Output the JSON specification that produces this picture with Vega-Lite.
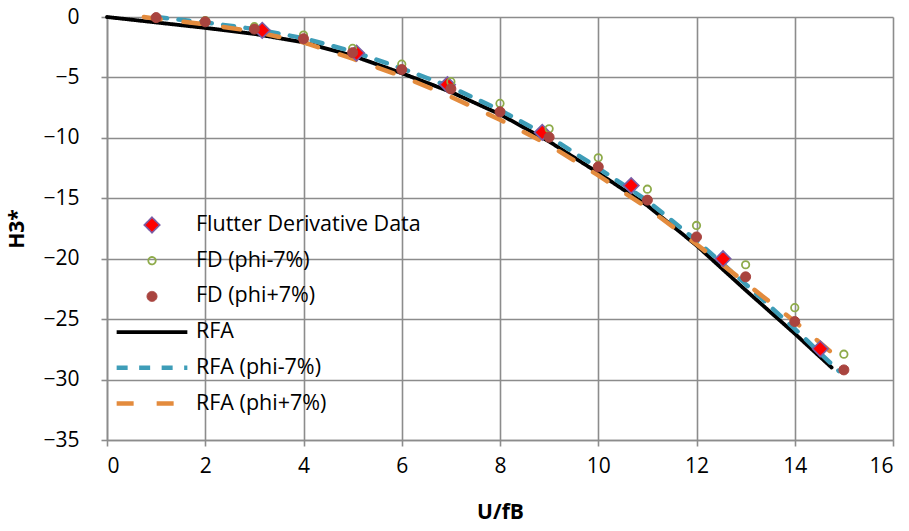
{
  "$schema": "https://vega.github.io/schema/vega-lite/v6.json",
  "width": 786,
  "height": 423,
  "autosize": {"type": "none"},
  "padding": {"left": 107, "top": 17, "right": 16, "bottom": 91},
  "background": "white",
  "config": {
    "view": {"stroke": null},
    "font": "Open Sans",
    "axis": {
      "gridColor": "#8c8c8c",
      "gridWidth": 1.6,
      "domainColor": "#8c8c8c",
      "domainWidth": 1.6,
      "tickColor": "#8c8c8c",
      "tickWidth": 1.6,
      "tickSize": 6,
      "labelFont": "Open Sans",
      "labelFontSize": 21,
      "labelColor": "#000000",
      "titleFont": "Open Sans",
      "titleFontSize": 21,
      "titleFontWeight": "bold",
      "titleColor": "#000000"
    },
    "legend": {
      "orient": "none",
      "legendX": 7,
      "legendY": 198,
      "labelFont": "Open Sans",
      "labelFontSize": 21.5,
      "labelColor": "#000000",
      "labelOffset": 6,
      "labelLimit": 400,
      "clipHeight": 20,
      "rowPadding": 13.7,
      "symbolOpacity": 1
    }
  },
  "data": {
    "values": [
      {"series": "RFA", "u": 0, "h": 0},
      {"series": "RFA", "u": 1, "h": -0.45},
      {"series": "RFA", "u": 2, "h": -0.9},
      {"series": "RFA", "u": 3, "h": -1.4},
      {"series": "RFA", "u": 4, "h": -2.1},
      {"series": "RFA", "u": 5, "h": -3.2},
      {"series": "RFA", "u": 6, "h": -4.65},
      {"series": "RFA", "u": 7, "h": -6.2},
      {"series": "RFA", "u": 8, "h": -8.05},
      {"series": "RFA", "u": 9, "h": -10.3},
      {"series": "RFA", "u": 10, "h": -12.9},
      {"series": "RFA", "u": 11, "h": -15.6},
      {"series": "RFA", "u": 12, "h": -18.9},
      {"series": "RFA", "u": 13, "h": -22.6},
      {"series": "RFA", "u": 14, "h": -26.2},
      {"series": "RFA", "u": 14.75, "h": -29.0},
      {"series": "RFA (phi-7%)", "u": 1, "h": 0},
      {"series": "RFA (phi-7%)", "u": 2, "h": -0.45},
      {"series": "RFA (phi-7%)", "u": 3, "h": -1.0},
      {"series": "RFA (phi-7%)", "u": 4, "h": -1.75},
      {"series": "RFA (phi-7%)", "u": 5, "h": -2.85},
      {"series": "RFA (phi-7%)", "u": 6, "h": -4.25},
      {"series": "RFA (phi-7%)", "u": 7, "h": -5.8},
      {"series": "RFA (phi-7%)", "u": 8, "h": -7.7},
      {"series": "RFA (phi-7%)", "u": 9, "h": -9.9},
      {"series": "RFA (phi-7%)", "u": 10, "h": -12.5},
      {"series": "RFA (phi-7%)", "u": 11, "h": -15.2},
      {"series": "RFA (phi-7%)", "u": 12, "h": -18.5},
      {"series": "RFA (phi-7%)", "u": 13, "h": -22.1},
      {"series": "RFA (phi-7%)", "u": 14, "h": -25.8},
      {"series": "RFA (phi-7%)", "u": 14.9, "h": -29.3},
      {"series": "RFA (phi+7%)", "u": 0.75, "h": 0},
      {"series": "RFA (phi+7%)", "u": 1, "h": -0.15},
      {"series": "RFA (phi+7%)", "u": 2, "h": -0.6},
      {"series": "RFA (phi+7%)", "u": 3, "h": -1.2},
      {"series": "RFA (phi+7%)", "u": 4, "h": -2.1},
      {"series": "RFA (phi+7%)", "u": 5, "h": -3.45},
      {"series": "RFA (phi+7%)", "u": 6, "h": -4.9},
      {"series": "RFA (phi+7%)", "u": 7, "h": -6.6},
      {"series": "RFA (phi+7%)", "u": 8, "h": -8.5},
      {"series": "RFA (phi+7%)", "u": 9, "h": -10.6},
      {"series": "RFA (phi+7%)", "u": 10, "h": -13.1},
      {"series": "RFA (phi+7%)", "u": 11, "h": -15.8},
      {"series": "RFA (phi+7%)", "u": 12, "h": -18.8},
      {"series": "RFA (phi+7%)", "u": 13, "h": -22.0},
      {"series": "RFA (phi+7%)", "u": 14, "h": -25.2},
      {"series": "RFA (phi+7%)", "u": 14.85, "h": -28.1},
      {"series": "Flutter Derivative Data", "u": 3.16, "h": -1.1},
      {"series": "Flutter Derivative Data", "u": 5.08, "h": -2.98},
      {"series": "Flutter Derivative Data", "u": 6.93, "h": -5.6},
      {"series": "Flutter Derivative Data", "u": 8.86, "h": -9.55},
      {"series": "Flutter Derivative Data", "u": 10.67, "h": -13.95},
      {"series": "Flutter Derivative Data", "u": 12.54, "h": -20.0},
      {"series": "Flutter Derivative Data", "u": 14.52, "h": -27.45},
      {"series": "FD (phi-7%)", "u": 1, "h": -0.05},
      {"series": "FD (phi-7%)", "u": 2, "h": -0.3},
      {"series": "FD (phi-7%)", "u": 3, "h": -0.8},
      {"series": "FD (phi-7%)", "u": 4, "h": -1.5},
      {"series": "FD (phi-7%)", "u": 5, "h": -2.6},
      {"series": "FD (phi-7%)", "u": 6, "h": -3.9},
      {"series": "FD (phi-7%)", "u": 7, "h": -5.35},
      {"series": "FD (phi-7%)", "u": 8, "h": -7.15},
      {"series": "FD (phi-7%)", "u": 9, "h": -9.25},
      {"series": "FD (phi-7%)", "u": 10, "h": -11.65},
      {"series": "FD (phi-7%)", "u": 11, "h": -14.25},
      {"series": "FD (phi-7%)", "u": 12, "h": -17.25},
      {"series": "FD (phi-7%)", "u": 13, "h": -20.5},
      {"series": "FD (phi-7%)", "u": 14, "h": -24.05},
      {"series": "FD (phi-7%)", "u": 15, "h": -27.9},
      {"series": "FD (phi+7%)", "u": 1, "h": -0.05},
      {"series": "FD (phi+7%)", "u": 2, "h": -0.4},
      {"series": "FD (phi+7%)", "u": 3, "h": -1.0},
      {"series": "FD (phi+7%)", "u": 4, "h": -1.8},
      {"series": "FD (phi+7%)", "u": 5, "h": -2.95},
      {"series": "FD (phi+7%)", "u": 6, "h": -4.35},
      {"series": "FD (phi+7%)", "u": 7, "h": -5.95},
      {"series": "FD (phi+7%)", "u": 8, "h": -7.85},
      {"series": "FD (phi+7%)", "u": 9, "h": -9.95},
      {"series": "FD (phi+7%)", "u": 10, "h": -12.4},
      {"series": "FD (phi+7%)", "u": 11, "h": -15.15},
      {"series": "FD (phi+7%)", "u": 12, "h": -18.2},
      {"series": "FD (phi+7%)", "u": 13, "h": -21.5},
      {"series": "FD (phi+7%)", "u": 14, "h": -25.2},
      {"series": "FD (phi+7%)", "u": 15, "h": -29.2}
    ]
  },
  "encoding": {
    "x": {
      "field": "u", "type": "quantitative",
      "scale": {"domain": [0, 16], "nice": false, "zero": false},
      "axis": {"values": [0, 2, 4, 6, 8, 10, 12, 14, 16], "title": "U/fB", "labelPadding": 9, "titlePadding": 25}
    },
    "y": {
      "field": "h", "type": "quantitative",
      "scale": {"domain": [-35, 0], "nice": false, "zero": false},
      "axis": {"values": [0, -5, -10, -15, -20, -25, -30, -35], "title": "H3*", "labelPadding": 22, "titlePadding": 15}
    },
    "stroke": {
      "field": "series", "type": "nominal",
      "scale": {
        "domain": ["Flutter Derivative Data", "FD (phi-7%)", "FD (phi+7%)", "RFA", "RFA (phi-7%)", "RFA (phi+7%)"],
        "range": ["#7A5EA6", "#8EAB4A", "#A9443F", "#000000", "#3E9DB8", "#E38B3D"]
      },
      "legend": {"title": null}
    },
    "strokeWidth": {
      "field": "series", "type": "nominal",
      "scale": {
        "type": "ordinal",
        "domain": ["Flutter Derivative Data", "FD (phi-7%)", "FD (phi+7%)", "RFA", "RFA (phi-7%)", "RFA (phi+7%)"],
        "range": [1.6, 1.8, 1, 3.8, 4.5, 4.5]
      },
      "legend": {"title": null}
    }
  },
  "layer": [
    {
      "transform": [{"filter": "indexof(['RFA', 'RFA (phi-7%)', 'RFA (phi+7%)'], datum.series) >= 0"}],
      "mark": {"type": "line", "strokeCap": "round", "strokeJoin": "round"},
      "encoding": {
        "strokeDash": {
          "field": "series", "type": "nominal",
          "scale": {
            "domain": ["Flutter Derivative Data", "FD (phi-7%)", "FD (phi+7%)", "RFA", "RFA (phi-7%)", "RFA (phi+7%)"],
            "range": [[1, 0], [1, 0], [1, 0], [1, 0], [11, 11.5], [17, 23]]
          },
          "legend": {"title": null}
        }
      }
    },
    {
      "transform": [{"filter": "indexof(['RFA', 'RFA (phi-7%)', 'RFA (phi+7%)'], datum.series) < 0"}],
      "mark": {"type": "point", "filled": false, "opacity": 1},
      "encoding": {
        "shape": {
          "field": "series", "type": "nominal",
          "scale": {
            "domain": ["Flutter Derivative Data", "FD (phi-7%)", "FD (phi+7%)", "RFA", "RFA (phi-7%)", "RFA (phi+7%)"],
            "range": ["diamond", "circle", "circle", "stroke", "stroke", "stroke"]
          },
          "legend": {"title": null}
        },
        "fill": {
          "field": "series", "type": "nominal",
          "scale": {
            "domain": ["Flutter Derivative Data", "FD (phi-7%)", "FD (phi+7%)", "RFA", "RFA (phi-7%)", "RFA (phi+7%)"],
            "range": ["#FF0000", "transparent", "#A9443F", "transparent", "transparent", "transparent"]
          },
          "legend": {"title": null}
        },
        "size": {
          "field": "series", "type": "nominal",
          "scale": {
            "type": "ordinal",
            "domain": ["Flutter Derivative Data", "FD (phi-7%)", "FD (phi+7%)", "RFA", "RFA (phi-7%)", "RFA (phi+7%)"],
            "range": [240, 55, 100, 5000, 5000, 5000]
          },
          "legend": {"title": null}
        },
        "order": {"field": "series", "sort": "descending"}
      }
    }
  ]
}
